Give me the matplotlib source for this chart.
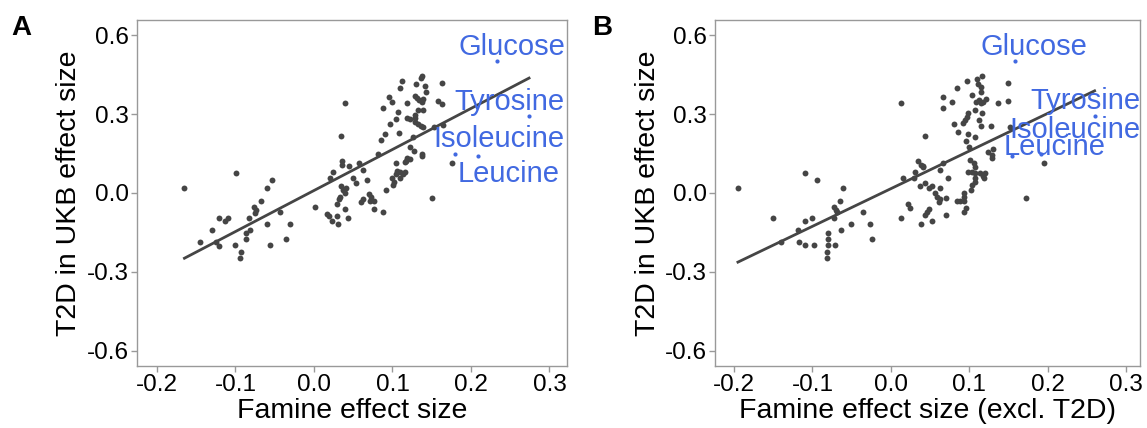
import numpy as np
import matplotlib
matplotlib.use("Agg")
import matplotlib.pyplot as plt

plt.rcParams['font.family'] = ['Liberation Sans', 'DejaVu Sans']

# ---- panel A: famine effect size vs T2D effect size ----
famine_a = [
    -0.165, -0.099, -0.054, -0.060, -0.068, -0.077, -0.074, -0.075, -0.121, -0.113,
    -0.110, -0.083, -0.043, -0.031, -0.060, -0.081, -0.086, -0.130, -0.145, -0.125,
    -0.121, -0.087, -0.100, -0.093, -0.094, -0.056, -0.036,
    0.001, 0.036, 0.036, 0.045, 0.058, 0.062, 0.024, 0.020, 0.050, 0.053,
    0.067, 0.035, 0.041, 0.037, 0.040, 0.033, 0.032, 0.029, 0.040, 0.043,
    0.029, 0.017, 0.019, 0.023, 0.030, 0.062, 0.060, 0.070, 0.073, 0.071,
    0.076, 0.076, 0.088, 0.092, 0.101, 0.102, 0.100, 0.105, 0.106, 0.104,
    0.110, 0.113, 0.116, 0.110, 0.117, 0.122, 0.138, 0.150, 0.176,
    0.039, 0.034, 0.112, 0.110, 0.136, 0.138, 0.130, 0.142, 0.143, 0.163,
    0.096, 0.099, 0.088, 0.107, 0.118, 0.129, 0.131, 0.134, 0.137, 0.139,
    0.158, 0.163, 0.105, 0.119, 0.122, 0.129, 0.129, 0.129, 0.132, 0.136,
    0.139, 0.139, 0.133, 0.097, 0.090, 0.086, 0.108, 0.126, 0.153, 0.165,
    0.081, 0.122, 0.127, 0.138, 0.118, 0.116,
]
t2d_a = [
    0.019, 0.077, 0.048, 0.019, -0.032, -0.052, -0.065, -0.075, -0.095, -0.106,
    -0.096, -0.095, -0.072, -0.118, -0.118, -0.141, -0.153, -0.141, -0.186, -0.186,
    -0.202, -0.176, -0.199, -0.224, -0.247, -0.199, -0.175,
    -0.052, 0.122, 0.106, 0.103, 0.113, 0.087, 0.079, 0.058, 0.058, 0.038,
    0.049, 0.028, 0.020, 0.011, 0.001, -0.014, -0.024, -0.042, -0.061, -0.094,
    -0.086, -0.079, -0.087, -0.105, -0.118, -0.023, -0.033, -0.004, -0.014, -0.029,
    -0.030, -0.062, -0.073, 0.010, 0.030, 0.043, 0.058, 0.071, 0.084, 0.113,
    0.058, 0.071, 0.079, 0.081, 0.122, 0.129, 0.142, -0.020, 0.113,
    0.343, 0.216, 0.426, 0.398, 0.436, 0.445, 0.413, 0.408, 0.386, 0.419,
    0.364, 0.345, 0.322, 0.309, 0.343, 0.370, 0.360, 0.352, 0.345, 0.356,
    0.350, 0.337, 0.280, 0.286, 0.280, 0.297, 0.284, 0.269, 0.261, 0.256,
    0.252, 0.314, 0.314, 0.261, 0.224, 0.201, 0.229, 0.214, 0.252, 0.259,
    0.147, 0.176, 0.160, 0.147, 0.134, 0.119,
]

# ---- panel B: famine effect size (excl. T2D) ----
famine_b = [
    -0.195, -0.110, -0.094, -0.061, -0.065, -0.073, -0.070, -0.069, -0.073, -0.035,
    -0.150, -0.109, -0.101, -0.051, -0.027, -0.119, -0.064, -0.080, -0.024, -0.117,
    -0.140, -0.109, -0.098, -0.080, -0.080, -0.071, -0.082, -0.082,
    0.013, 0.022, 0.025, 0.039, 0.044, 0.046, 0.049, 0.052, 0.070, 0.035,
    0.038, 0.041, 0.063, 0.031, 0.029, 0.016, 0.044, 0.037, 0.049, 0.052,
    0.063, 0.073, 0.056, 0.059, 0.063, 0.062, 0.070, 0.084, 0.088, 0.093,
    0.093, 0.093, 0.093, 0.096, 0.102, 0.104, 0.107, 0.107, 0.103, 0.099,
    0.107, 0.114, 0.117, 0.120, 0.119, 0.101, 0.106, 0.129, 0.172, 0.067,
    0.041, 0.195,
    0.013, 0.043, 0.116, 0.110, 0.097, 0.111, 0.115, 0.115, 0.084, 0.149,
    0.066, 0.078, 0.066, 0.103, 0.109, 0.112, 0.115, 0.118, 0.122, 0.116,
    0.107, 0.099, 0.097, 0.095, 0.092, 0.112, 0.115, 0.137, 0.150, 0.128,
    0.152, 0.081, 0.086, 0.099, 0.096, 0.107, 0.100, 0.124, 0.131, 0.129,
    0.108,
]
t2d_b = [
    0.019, 0.077, 0.048, 0.019, -0.032, -0.052, -0.065, -0.072, -0.095, -0.072,
    -0.095, -0.106, -0.095, -0.118, -0.118, -0.141, -0.141, -0.151, -0.175, -0.186,
    -0.187, -0.199, -0.199, -0.176, -0.199, -0.199, -0.224, -0.247,
    -0.094, -0.043, -0.056, -0.118, -0.084, -0.073, -0.061, -0.105, -0.084, 0.122,
    0.106, 0.103, 0.087, 0.079, 0.058, 0.058, 0.038, 0.028, 0.018, 0.028,
    0.018, 0.058, -0.001, -0.014, -0.024, -0.033, -0.020, -0.030, -0.030, -0.030,
    -0.001, -0.014, -0.071, -0.058, 0.011, 0.030, 0.043, 0.058, 0.079, 0.079,
    0.075, 0.075, 0.066, 0.075, 0.058, 0.125, 0.113, 0.132, -0.020, 0.113,
    0.100, 0.113,
    0.343, 0.216, 0.445, 0.432, 0.426, 0.413, 0.404, 0.385, 0.398, 0.419,
    0.366, 0.345, 0.322, 0.373, 0.347, 0.354, 0.341, 0.347, 0.356, 0.305,
    0.316, 0.305, 0.290, 0.278, 0.265, 0.278, 0.255, 0.341, 0.351, 0.255,
    0.250, 0.262, 0.233, 0.223, 0.199, 0.214, 0.176, 0.157, 0.166, 0.144,
    0.100,
]

# labelled metabolites
label_names = ['Glucose', 'Tyrosine', 'Isoleucine', 'Leucine']
label_t2d = [0.502, 0.293, 0.148, 0.141]
label_famine_a = [0.233, 0.274, 0.180, 0.209]
label_famine_b = [0.158, 0.260, 0.192, 0.154]
# text positions (as placed by the label repel)
text_x_a = [0.252, 0.249, 0.236, 0.248]
text_y_a = [0.556, 0.347, 0.205, 0.072]
text_x_b = [0.183, 0.248, 0.235, 0.209]
text_y_b = [0.556, 0.350, 0.240, 0.176]

y_ticks = [-0.6, -0.3, 0.0, 0.3, 0.6]
x_ticks = [-0.2, -0.1, 0.0, 0.1, 0.2, 0.3]

PT_COL = '#454545'
LAB_COL = '#4169E1'
FRAME_COL = '#999999'


def draw_panel(ax, fx, ty, lx, tx, ty_txt, xlabel, xlim):
    x_all = np.array(list(fx) + list(lx))
    y_all = np.array(list(ty) + list(label_t2d))
    slope, icpt = np.polyfit(x_all, y_all, 1)
    xs = np.array([x_all.min(), x_all.max()])
    ax.plot(xs, icpt + slope * xs, color=PT_COL, lw=2.0, zorder=2)
    ax.scatter(fx, ty, s=18, color=PT_COL, linewidths=0, zorder=3)
    ax.scatter(lx, label_t2d, s=9, color=LAB_COL, linewidths=0, zorder=3)
    for name, txx, tyy in zip(label_names, tx, ty_txt):
        ax.text(txx, tyy, name, color=LAB_COL, fontsize=21,
                ha='center', va='center', zorder=4)

    ax.set_xlim(*xlim)
    ax.set_ylim(-0.658, 0.658)
    ax.set_xticks(x_ticks)
    ax.set_xticklabels([f'{v:.1f}' for v in x_ticks])
    ax.set_yticks(y_ticks)
    ax.set_yticklabels([f'{v:.1f}' for v in y_ticks])
    ax.tick_params(labelsize=17.5, colors=FRAME_COL, labelcolor='black',
                   length=4, width=1, pad=2)
    for sp in ax.spines.values():
        sp.set_color(FRAME_COL)
        sp.set_linewidth(1)
    ax.set_xlabel(xlabel, fontsize=20.5, labelpad=1)
    ax.set_ylabel('T2D in UKB effect size', fontsize=20.5, labelpad=3)


fig = plt.figure(figsize=(11.47, 4.28), dpi=100)
ax_a = fig.add_axes([0.1194, 0.1449, 0.3749, 0.8084])
ax_b = fig.add_axes([0.6234, 0.1449, 0.3705, 0.8084])

draw_panel(ax_a, famine_a, t2d_a, label_famine_a, text_x_a, text_y_a,
           'Famine effect size', (-0.2255, 0.3223))
draw_panel(ax_b, famine_b, t2d_b, label_famine_b, text_x_b, text_y_b,
           'Famine effect size (excl. T2D)', (-0.2242, 0.3179))

fig.text(0.010, 0.965, 'A', fontsize=20, fontweight='bold', va='top')
fig.text(0.516, 0.965, 'B', fontsize=20, fontweight='bold', va='top')

fig.savefig('out.png', dpi=100)
